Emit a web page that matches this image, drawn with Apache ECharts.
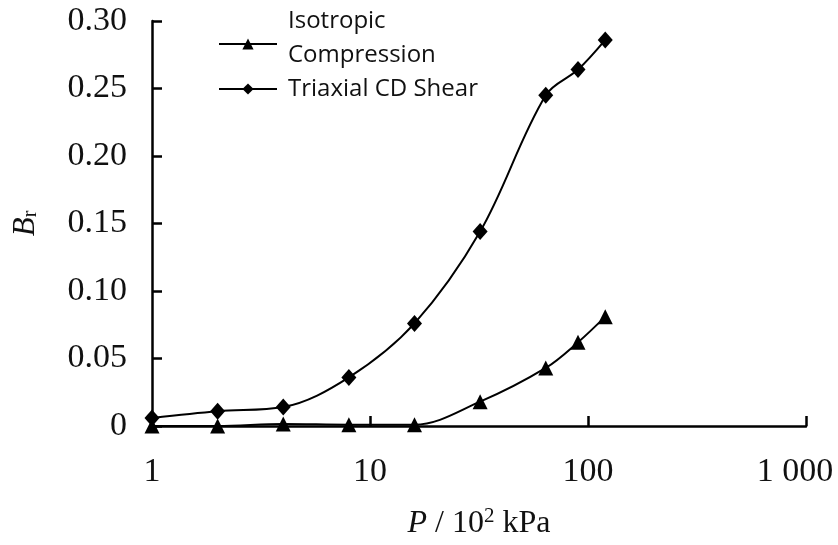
<!DOCTYPE html>
<html>
<head>
<meta charset="utf-8">
<script src="https://cdn.jsdelivr.net/npm/echarts@6/dist/echarts.min.js"></script>
<style>html,body{margin:0;padding:0;background:#fff;}#c{width:838px;height:545px;}</style>
</head>
<body>
<div id="c"></div>
<script>
var pressure = [1, 2, 4, 8, 16, 32, 64, 90, 120];
var isotropic = [0, 0, 0.0015, 0.001, 0.001, 0.018, 0.043, 0.062, 0.081];
var triaxial = [0.006, 0.011, 0.014, 0.036, 0.076, 0.144, 0.245, 0.264, 0.286];
var yTicks = [0, 0.05, 0.10, 0.15, 0.20, 0.25, 0.30];
var xTicks = [1, 10, 100, 1000];
var seriesNames = ['Isotropic\nCompression', 'Triaxial CD Shear'];

function pairs(xs, ys) { return xs.map(function (x, i) { return [x, ys[i]]; }); }

var chart = echarts.init(document.getElementById('c'), null, {renderer: 'canvas'});
var serif = 'Liberation Serif';
chart.setOption({
  animation: false,
  backgroundColor: '#fff',
  grid: {left: 152, right: 32, top: 21, bottom: 119, containLabel: false, outerBoundsMode: 'none'},
  legend: {
    orient: 'vertical', left: 218, top: 4, itemGap: -12, padding: 0,
    itemWidth: 58, itemHeight: 14,
    textStyle: {fontFamily: 'Open Sans', fontSize: 24, color: '#111', lineHeight: 34, padding: [0, 0, 0, 6],
      rich: {
        t: {fontFamily: 'Open Sans', fontSize: 24, color: '#111', lineHeight: 34},
        s: {fontSize: 4, lineHeight: 12}
      }},
    formatter: function (name) {
      if (name === seriesNames[0]) {
        return name.split('\n').map(function (s) { return '{t|' + s + '}'; }).join('\n') + '\n{s| }';
      }
      return '{t|' + name + '}';
    },
    data: seriesNames
  },
  xAxis: {
    type: 'log', logBase: 10, min: 1, max: 1000,
    name: '{i|P} / 10{sup|2} kPa', nameLocation: 'middle', nameGap: 80,
    nameTextStyle: {fontFamily: serif, fontSize: 32, color: '#111',
      rich: {i: {fontFamily: serif, fontStyle: 'italic', fontSize: 32, color: '#111'},
             sup: {fontFamily: serif, fontSize: 21, verticalAlign: 'top', padding: [0, 0, 14, 0], color: '#111'}}},
    axisLine: {lineStyle: {color: '#000', width: 2.5}},
    axisTick: {inside: true, length: 10, lineStyle: {color: '#000', width: 2.5}},
    minorTick: {show: false},
    splitLine: {show: false},
    axisLabel: {fontFamily: serif, fontSize: 34, color: '#111', margin: 29,
      rich: {m: {fontFamily: serif, fontSize: 34, color: '#111', padding: [0, 22, 0, 0]}},
      formatter: function (v) { return v === 1000 ? '{m|1 000}' : String(v); }}
  },
  yAxis: {
    type: 'value', min: 0, max: 0.3, interval: 0.05,
    name: '{i|B}{sub|r}', nameLocation: 'middle', nameGap: 111, nameRotate: 90,
    nameTextStyle: {fontFamily: serif, fontSize: 31, color: '#111',
      rich: {i: {fontFamily: serif, fontStyle: 'italic', fontSize: 31, color: '#111'},
             sub: {fontFamily: serif, fontSize: 20, verticalAlign: 'bottom', padding: [10, 0, 0, 0], color: '#111'}}},
    axisLine: {show: true, lineStyle: {color: '#000', width: 2.5}},
    axisTick: {show: true, inside: true, length: 10, lineStyle: {color: '#000', width: 2.5}},
    splitLine: {show: false},
    axisLabel: {fontFamily: serif, fontSize: 34, color: '#111', margin: 25,
      formatter: function (v) { return v === 0 ? '0' : v.toFixed(2); }}
  },
  series: [
    {name: seriesNames[0], type: 'line', smooth: 0.35, data: pairs(pressure, isotropic),
     symbol: 'triangle', symbolSize: 15, showAllSymbol: true,
     lineStyle: {color: '#000', width: 2}, itemStyle: {color: '#000'}, z: 3},
    {name: seriesNames[1], type: 'line', smooth: 0.35, data: pairs(pressure, triaxial),
     symbol: 'diamond', symbolSize: [15, 17], showAllSymbol: true,
     lineStyle: {color: '#000', width: 2}, itemStyle: {color: '#000'}, z: 3}
  ]
});
</script>
</body>
</html>
